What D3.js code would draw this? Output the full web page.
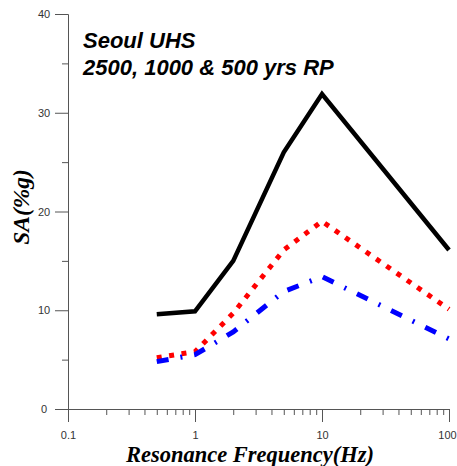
<!DOCTYPE html>
<html><head><meta charset="utf-8">
<script src="https://cdn.jsdelivr.net/npm/d3@7"></script>
<style>
body{margin:0;background:#fff;}
svg{display:block;}
</style></head>
<body>
<script>
// Data
const freqs = [0.5, 1, 2, 5, 10, 100];
const rp2500 = [9.6, 9.9, 15.0, 26.0, 31.9, 16.1];
const rp1000 = [5.2, 5.8, 9.7, 16.1, 19.0, 10.1];
const rp500  = [4.8, 5.5, 7.8, 11.9, 13.4, 7.1];
const yTicks = [0, 10, 20, 30, 40];
const yMinor = [5, 15, 25, 35];
const xTicks = [0.1, 1, 10, 100];
const xTickLabels = ["0.1", "1", "10", "100"];
const titleLines = ["Seoul UHS", "2500, 1000 & 500 yrs RP"];

const W = 457, H = 466;
const svg = d3.select("body").append("svg").attr("width", W).attr("height", H);

const x = d3.scaleLog().domain([0.1, 100]).range([68, 449]);
const y = d3.scaleLinear().domain([0, 40]).range([409, 14]);

const axisColor = "#555";
const labelColor = "#333";

// minor x ticks
const xMinor = [];
[0.1, 1, 10].forEach(d => { for (let k = 2; k <= 9; k++) xMinor.push(d * k); });

const gx = svg.append("g").attr("transform", "translate(0,409)");
gx.call(d3.axisBottom(x).tickValues(xMinor).tickSize(6).tickSizeOuter(0).tickFormat(""));
const gx2 = svg.append("g").attr("transform", "translate(0,409)");
gx2.call(d3.axisBottom(x).tickValues(xTicks).tickSize(13).tickSizeOuter(0).tickPadding(9)
  .tickFormat((d, i) => xTickLabels[i]));
// keep the last label inside the frame
gx2.selectAll(".tick text").filter(d => d === 100).attr("x", -2);

const gy = svg.append("g").attr("transform", "translate(68,0)");
gy.call(d3.axisLeft(y).tickValues(yMinor).tickSize(6).tickSizeOuter(0).tickFormat(""));
const gy2 = svg.append("g").attr("transform", "translate(68,0)");
gy2.call(d3.axisLeft(y).tickValues(yTicks).tickSize(13).tickSizeOuter(0).tickPadding(11).tickFormat(d3.format("d")));
gy2.selectAll(".tick text").attr("text-anchor", "middle").attr("x", -24);

svg.selectAll(".domain, .tick line").attr("stroke", axisColor).attr("stroke-width", 1);
svg.selectAll(".tick text").attr("fill", labelColor)
  .style("font-family", "Liberation Sans, Arial, sans-serif").style("font-size", "11px");

// lines
const line = d3.line().x(d => x(d[0])).y(d => y(d[1]));
const series = [
  {vals: rp2500, color: "#000", dash: null, w: 4.5},
  {vals: rp1000, color: "#ff0000", dash: "5,7.5", w: 5},
  {vals: rp500, color: "#0000ff", dash: "12,12,2,12", w: 5}
];
series.forEach(s => {
  svg.append("path")
    .datum(freqs.map((f, i) => [f, s.vals[i]]))
    .attr("d", line)
    .attr("fill", "none")
    .attr("stroke", s.color)
    .attr("stroke-width", s.w)
    .attr("stroke-linejoin", "miter")
    .attr("stroke-dasharray", s.dash);
});

// title
svg.selectAll("text.title").data(titleLines).enter().append("text")
  .attr("class", "title")
  .attr("x", 83).attr("y", (d, i) => 48 + i * 27)
  .style("font-family", "Liberation Sans, Arial, sans-serif")
  .style("font-size", "22px").style("font-weight", "bold").style("font-style", "italic")
  .attr("fill", "#000")
  .text(d => d);

// axis titles
svg.append("text")
  .attr("x", 250).attr("y", 462).attr("text-anchor", "middle")
  .style("font-family", "Liberation Serif, Times New Roman, serif")
  .style("font-size", "22.5px").style("font-weight", "bold").style("font-style", "italic")
  .text("Resonance Frequency(Hz)");

svg.append("text")
  .attr("transform", "translate(29,207) rotate(-90)")
  .attr("text-anchor", "middle")
  .style("font-family", "Liberation Serif, Times New Roman, serif")
  .style("font-size", "23.5px").style("font-weight", "bold").style("font-style", "italic")
  .text("SA(%g)");
</script>
</body></html>
